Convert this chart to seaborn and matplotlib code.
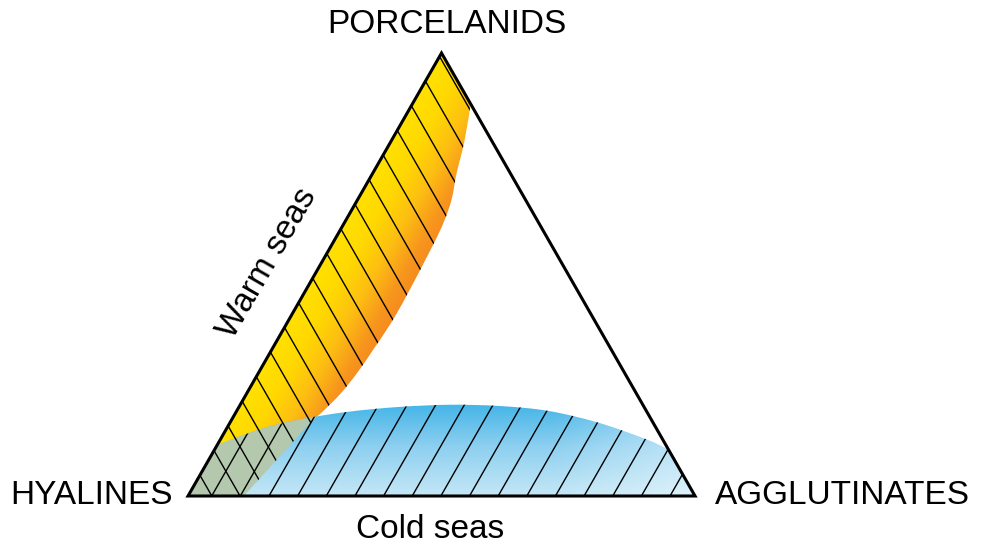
import numpy as np
import matplotlib
matplotlib.use("Agg")
import matplotlib.pyplot as plt
from matplotlib.patches import Polygon, PathPatch
from matplotlib.path import Path
import seaborn as sns

# ternary field boundaries, in percent (porcelanids, agglutinates); hyalines = rest
warm_porc = [100, 88.5, 80, 73, 67, 62, 56.5, 45, 39, 33, 28, 23, 19, 17, 0]
warm_aggl = [0, 11.5, 14.5, 16.5, 18.5, 19.5, 20, 20.5, 20.5, 20, 19.5, 18.5, 17, 16, 11]
cold_porc = [11.5, 15, 17.3, 19, 20.1, 20.6, 20.3, 19.2, 16.6, 12.8, 10.5]
cold_aggl = [0, 6.5, 13.5, 22, 31.5, 41.5, 51.5, 61.5, 72.5, 84, 89.5]

corner_labels = ["HYALINES", "AGGLUTINATES", "PORCELANIDS"]
field_labels = ["Warm seas", "Cold seas"]

sns.set_theme(style="white")
plt.rcParams["font.family"] = ["Liberation Sans", "DejaVu Sans"]

H3 = np.sqrt(3) / 2


def to_xy(porc, aggl):
    p = np.asarray(porc, float) / 100
    a = np.asarray(aggl, float) / 100
    return np.column_stack([a + p / 2, p * H3])


def curve_through(pts):
    # catmull-rom as cubic bezier segments, passes through every point
    pts = np.asarray(pts)
    ext = np.vstack([pts[0], pts, pts[-1]])
    verts, codes = [], []
    for i in range(1, len(ext) - 2):
        p0, p1, p2, p3 = ext[i - 1], ext[i], ext[i + 1], ext[i + 2]
        verts += [p1 + (p2 - p0) / 6, p2 - (p3 - p1) / 6, p2]
        codes += [Path.CURVE4] * 3
    return verts, codes


fig = plt.figure(figsize=(9.81, 5.45), dpi=100)
ax = fig.add_axes([0, 0, 1, 1])
ax.set_xlim(-0.3708, 1.564)
ax.set_ylim(-0.0958, 0.9697)
ax.axis("off")

corners = to_xy([0, 0, 100], [0, 100, 0])

# warm field: apex, along the edge, curved border, straight to base, H corner
wp = to_xy(warm_porc, warm_aggl)
cv, cc = curve_through(wp[1:-1])
warm_verts = [wp[0], wp[1]] + cv + [wp[-1], corners[0], corners[0]]
warm_codes = [Path.MOVETO, Path.LINETO] + cc + [Path.LINETO, Path.LINETO, Path.CLOSEPOLY]
warm_path = Path(warm_verts, warm_codes)

cp = to_xy(cold_porc, cold_aggl)
cv, cc = curve_through(cp)
cold_verts = [cp[0]] + cv + [corners[1], corners[0], corners[0]]
cold_codes = [Path.MOVETO] + cc + [Path.LINETO, Path.LINETO, Path.CLOSEPOLY]
cold_path = Path(cold_verts, cold_codes)

warm_patch = PathPatch(warm_path, fc="none", ec="none")
cold_patch = PathPatch(cold_path, fc="none", ec="none")
ax.add_patch(warm_patch)
ax.add_patch(cold_patch)

# gradient fills
gx = np.linspace(0, 1, 700)
gy = np.linspace(0, H3, 600)
XX, YY = np.meshgrid(gx, gy)

warm_cmap = sns.blend_palette(["#FFE100", "#FFD800", "#FDBF12", "#F7961D", "#F58220"],
                              as_cmap=True)
d = np.clip((H3 * XX - 0.5 * YY) / 0.2, 0, 1)
warm_rgb = warm_cmap(d)
im = ax.imshow(warm_rgb, extent=[0, 1, 0, H3], origin="lower", aspect="auto",
               interpolation="bilinear", zorder=1)
im.set_clip_path(warm_patch)

cold_cmap = sns.blend_palette(["#C4E7F6", "#8ED0F0", "#3BB1E6"], as_cmap=True)
t = np.clip(YY / 0.19, 0, 1)
cold_rgb = cold_cmap(t)
fade = np.clip((XX - 0.72) / 0.28, 0, 1)[..., None] * 0.45
cold_rgb[..., :3] = cold_rgb[..., :3] * (1 - fade) + fade
im2 = ax.imshow(cold_rgb, extent=[0, 1, 0, H3], origin="lower", aspect="auto",
                interpolation="bilinear", zorder=2)
im2.set_clip_path(cold_patch)

# overlap of both fields
overlap = PathPatch(warm_path, fc="#B4C8AE", ec="none", zorder=3)
ax.add_patch(overlap)
overlap.set_clip_path(cold_patch)

# hatching: cold = lines of constant agglutinates, warm = constant hyalines
for a in np.arange(0.0467, 1, 0.0565):
    p = np.array([0, 1 - a])
    ln, = ax.plot(a + p / 2, p * H3, color="black", lw=1.0, zorder=4)
    ln.set_clip_path(cold_patch)

for h in np.arange(0.953, 0, -0.0556):
    p = np.array([0, 1 - h])
    aa = 1 - h - p
    ln, = ax.plot(aa + p / 2, p * H3, color="black", lw=1.0, zorder=4)
    ln.set_clip_path(warm_patch)

# triangle frame
ax.add_patch(Polygon(corners, closed=True, fill=False, ec="black", lw=2.2,
                     joinstyle="miter", zorder=5))

fs = 24
ax.text(corners[0, 0] - 0.03, corners[0, 1], corner_labels[0], fontsize=fs,
        ha="right", va="center", color="black")
ax.text(corners[1, 0] + 0.04, corners[1, 1], corner_labels[1], fontsize=fs,
        ha="left", va="center", color="black")
ax.text(corners[2, 0] + 0.01, corners[2, 1] + 0.055, corner_labels[2], fontsize=fs,
        ha="center", va="center", color="black")
ax.text(0.157, 0.455, field_labels[0], fontsize=fs, ha="center", va="center",
        rotation=60, rotation_mode="anchor", color="black")
ax.text(0.478, -0.066, field_labels[1], fontsize=fs, ha="center", va="center",
        color="black")

fig.savefig("out.png", dpi=100)
